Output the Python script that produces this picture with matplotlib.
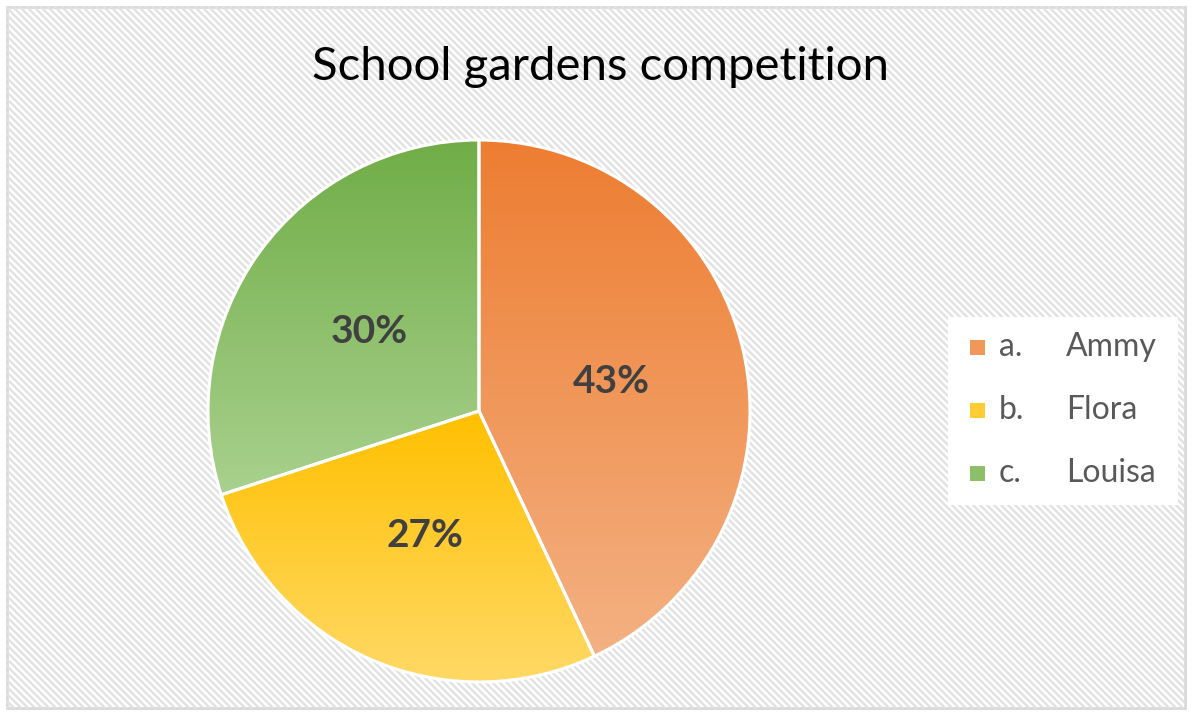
import numpy as np
import matplotlib.pyplot as plt
from matplotlib.patches import Rectangle
from matplotlib.collections import LineCollection
from matplotlib.colors import LinearSegmentedColormap, to_rgb

# School gardens competition - share of points per garden
title = "School gardens competition"
letters = ["a.", "b.", "c."]
names = ["Ammy", "Flora", "Louisa"]
shares = [43, 27, 30]
top_colors = ["#ED7D31", "#FFC000", "#70AD47"]
bottom_colors = ["#F4B183", "#FFD966", "#A9D18E"]

plt.rcParams['font.family'] = ['Lato', 'DejaVu Sans']

W, H = 1192, 715
fig = plt.figure(figsize=(W / 100, H / 100), dpi=100)

# background: striped chart area with a thin grey frame
bg = fig.add_axes([0, 0, 1, 1])
bg.set_xlim(0, W)
bg.set_ylim(H, 0)
bg.axis('off')
area = Rectangle((7, 7), W - 14, H - 14, facecolor='white', edgecolor='none')
bg.add_patch(area)
step = 7
offs = np.arange(-H, W + step, step)
segs = [[(o, 0), (o + H, H)] for o in offs]
stripes = LineCollection(segs, colors='#e3e3e3', linewidths=1.8)
bg.add_collection(stripes)
stripes.set_clip_path(area)
bg.add_patch(Rectangle((7, 7), W - 14, H - 14, facecolor='none',
                       edgecolor='#d9d9d9', linewidth=2))

bg.text(600, 80, title, ha='center', va='baseline', fontsize=34, color='black')

# pie
cx, cy, r = 479, 411, 271
ax = fig.add_axes([(cx - r) / W, (H - cy - r) / H, 2 * r / W, 2 * r / H])
wedges, texts, autotexts = ax.pie(
    shares, startangle=90, counterclock=False,
    autopct=lambda p: f"{round(p):d}%", pctdistance=0.5,
    wedgeprops=dict(edgecolor='white', linewidth=2.2),
    textprops=dict(fontsize=28, fontweight='bold', color='#404040'))

# vertical gradient inside each slice
grad = np.linspace(0, 1, 256).reshape(-1, 1)
for w, c0, c1 in zip(wedges, top_colors, bottom_colors):
    x0, y0, x1, y1 = w.get_path().get_extents().extents
    cmap = LinearSegmentedColormap.from_list('', [c1, c0])
    im = ax.imshow(grad, cmap=cmap, extent=(x0, x1, y0, y1), origin='lower',
                   aspect='auto', zorder=0.5, interpolation='bilinear')
    im.set_clip_path(w)
    w.set_facecolor('none')

ax.set_xlim(-1, 1)
ax.set_ylim(-1, 1)
ax.set_aspect('auto')
ax.axis('off')

# legend
bg.add_patch(Rectangle((948, 317), 230, 188, facecolor='white', edgecolor='none', zorder=3))
for i, (let, name, c0, c1) in enumerate(zip(letters, names, top_colors, bottom_colors)):
    y = 347 + 63 * i
    mid = tuple((np.array(to_rgb(c0)) + np.array(to_rgb(c1))) / 2)
    bg.add_patch(Rectangle((970, y - 7.5), 15, 15, facecolor=mid, edgecolor='none', zorder=4))
    bg.text(999, y, let, va='center', ha='left', fontsize=23, color='#595959', zorder=5)
    bg.text(1066, y, name, va='center', ha='left', fontsize=23, color='#595959', zorder=5)

fig.savefig('out.png', dpi=100)
